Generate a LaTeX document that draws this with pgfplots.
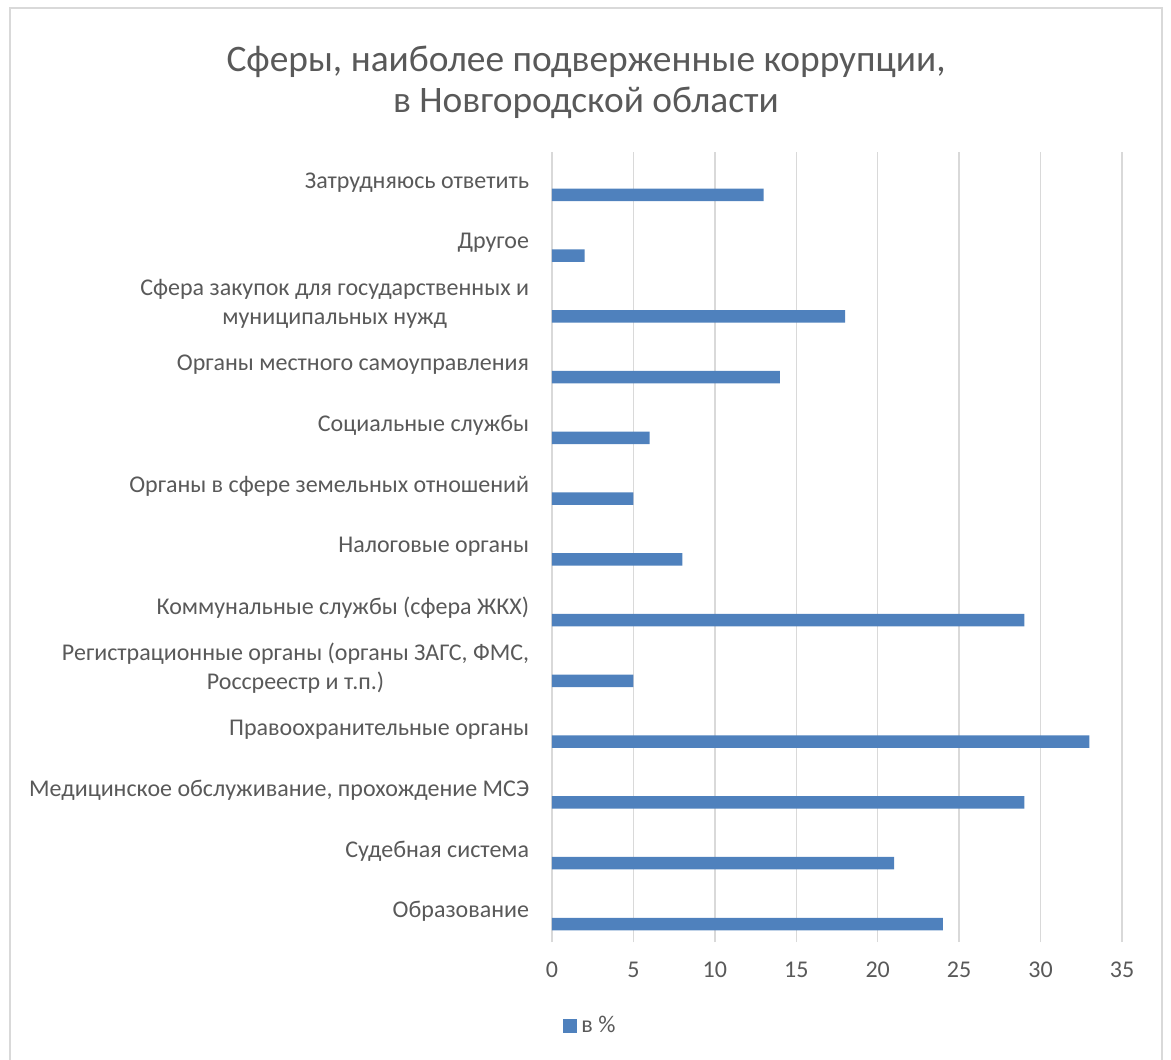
\documentclass[border=0pt]{standalone}
\usepackage{pgfplots}
\pgfplotsset{compat=1.18}
\usepackage{fontspec}
\setmainfont{Carlito}
\definecolor{txt}{HTML}{595959}
\definecolor{barblue}{HTML}{4F81BD}
\definecolor{grd}{HTML}{D9D9D9}
\begin{document}
\begin{tikzpicture}
% page = 1171x1059 px at 0.5pt per px, origin at the plot area's lower left corner
\path[use as bounding box] (-276pt,-58.5pt) rectangle (309.5pt,471pt);
\draw[grd, line width=1pt] (-271pt,-70pt) -- (-271pt,466.75pt) -- (305pt,466.75pt) -- (305pt,-70pt);
\node[align=center, text=txt, font=\fontsize{18.7}{20.5}\selectfont] at (17pt,430pt)
  {Сферы, наиболее подверженные коррупции,\\в Новгородской области};
\begin{axis}[
    at={(0,0)}, anchor=south west,
    scale only axis, width=285pt, height=395pt,
    xbar, bar width=6.25pt, bar shift=-6.2pt,
    xmin=0, xmax=35, xtick={0,5,...,35},
    ymin=-0.5, ymax=12.5, ytick={0,...,12},
    yticklabels={
        Образование,
        Судебная система,
        {Медицинское обслуживание, прохождение МСЭ},
        Правоохранительные органы,
        {Регистрационные органы (органы ЗАГС, ФМС,\\Россреестр и т.п.)},
        Коммунальные службы (сфера ЖКХ),
        Налоговые органы,
        Органы в сфере земельных отношений,
        Социальные службы,
        Органы местного самоуправления,
        {Сфера закупок для государственных и\\муниципальных нужд},
        Другое,
        Затрудняюсь ответить},
    yticklabel style={align=center, inner sep=0pt, xshift=-7pt, text=txt,
        font=\fontsize{12}{14.5}\selectfont},
    xticklabel style={inner sep=0pt, yshift=-10pt, text=txt,
        font=\fontsize{12}{14.5}\selectfont},
    /pgf/number format/assume math mode=true,
    xmajorgrids, grid style={grd, line width=0.75pt},
    axis line style={draw=none},
    tick style={draw=none},
    legend style={draw=none, at={(0.0193,-0.106)}, anchor=west, inner sep=0pt,
        text=txt, font=\fontsize{12}{14.5}\selectfont},
    legend image code/.code={\fill[barblue] (0pt,-3.5pt) rectangle (7pt,3.5pt);},
]
\addplot[fill=barblue, draw=none] coordinates {
    (24,0) (21,1) (29,2) (33,3) (5,4) (29,5) (8,6)
    (5,7) (6,8) (14,9) (18,10) (2,11) (13,12)};
\legend{в \%}
\end{axis}
\end{tikzpicture}
\end{document}
